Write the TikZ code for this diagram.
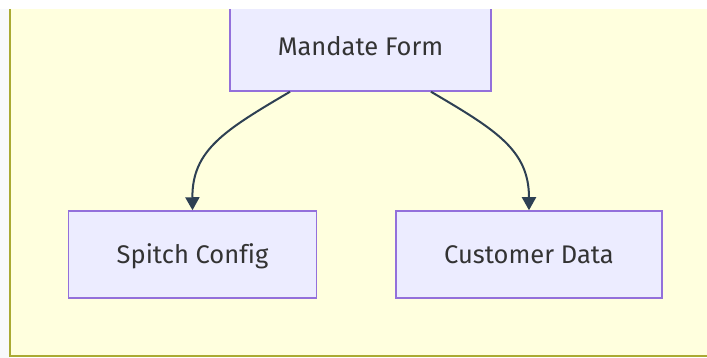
\documentclass[tikz,border=0pt]{standalone}
\usepackage{fontspec}
\setmainfont[Ligatures=NoCommon]{Fira Sans}
\usetikzlibrary{arrows.meta}
\definecolor{clfill}{HTML}{FFFFDE}
\definecolor{clstroke}{HTML}{AAAA33}
\definecolor{nfill}{HTML}{ECECFF}
\definecolor{nstroke}{HTML}{9370DB}
\definecolor{edgec}{HTML}{2E4053}
\definecolor{txt}{HTML}{333333}
\definecolor{side}{HTML}{F8F9FB}
\begin{document}
\begin{tikzpicture}[x=1pt,y=-1pt,
  lbl/.style={text=txt,font=\fontsize{25.5}{28}\selectfont,text height=20pt,text depth=3pt},
  box/.style={draw=nstroke,fill=nfill,line width=1.5pt,inner sep=0pt,lbl},
  edge/.style={draw=edgec,line width=2pt,-{Triangle[width=14pt,length=13pt]}}]
\useasboundingbox (0,0) rectangle (707,358);
\fill[white] (0,0) rectangle (707,358);
\fill[side] (0,9) rectangle (10,358);
\fill[clfill] (10,9) rectangle (707,356);
\draw[clstroke,line width=2pt] (10,9) -- (10,356) -- (707,356);
\node[box,minimum width=261pt,minimum height=110pt] (mf) at (360.5,36) {};
\node[lbl,inner sep=0pt] (mft) at (360.5,47) {Mandate Form};
\node[box,minimum width=248pt,minimum height=87pt] (sc) at (192.5,254.5) {Spitch Config};
\node[box,minimum width=266pt,minimum height=87pt] (cd) at (529,254.5) {Customer Data};
\fill[white] (9,0) rectangle (707,9);
\draw[edge] (mf.south -| 290,0) .. controls (225,130) and (192,150) .. (sc.north);
\draw[edge] (mf.south -| 431,0) .. controls (496,130) and (529,150) .. (cd.north);
\end{tikzpicture}
\end{document}
